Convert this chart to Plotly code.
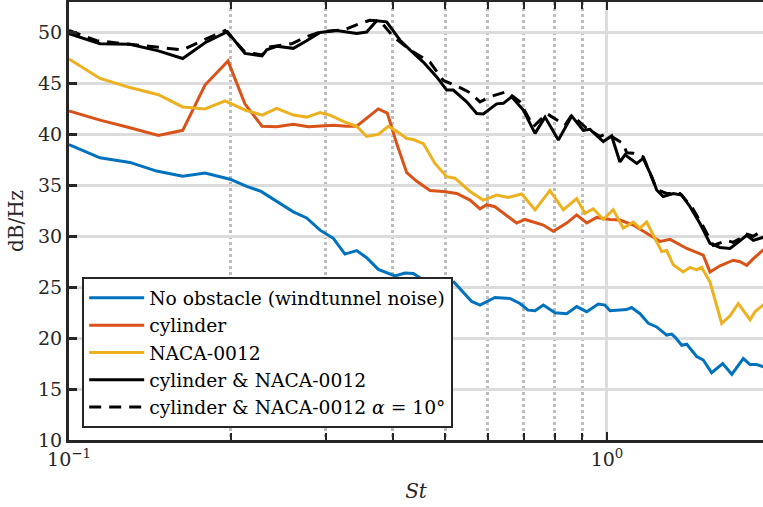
import plotly.graph_objects as go

# Strouhal number / spectral level pairs for each configuration
st_empty = [0.1, 0.1142, 0.1298, 0.1455, 0.1627, 0.179, 0.1992, 0.214, 0.2275, 0.2432,
            0.2612, 0.2765, 0.2928, 0.31, 0.3258, 0.3425, 0.3575, 0.3757, 0.4036, 0.4212,
            0.4365, 0.4589, 0.4825, 0.507, 0.5195, 0.5604, 0.5807, 0.619, 0.66, 0.689,
            0.7132, 0.735, 0.7615, 0.8005, 0.8416, 0.8784, 0.917, 0.9634, 0.9915, 1.013,
            1.088, 1.111, 1.152, 1.194, 1.237, 1.291, 1.319, 1.338, 1.377, 1.407,
            1.468, 1.51, 1.565, 1.641, 1.706, 1.792, 1.845, 1.897, 1.95, 2.0]
db_empty = [39.0, 37.7, 37.25, 36.4, 35.9, 36.2, 35.6, 34.9, 34.4, 33.4,
            32.4, 31.8, 30.6, 29.8, 28.25, 28.6, 27.9, 26.75, 26.1, 26.4,
            26.35, 25.6, 25.4, 25.4, 25.5, 23.6, 23.25, 24.0, 23.9, 23.4,
            22.75, 22.7, 23.25, 22.5, 22.4, 23.1, 22.6, 23.35, 23.25, 22.7,
            22.8, 23.0, 22.4, 21.45, 21.1, 20.3, 20.4, 20.1, 19.3, 19.4,
            18.2, 17.85, 16.6, 17.5, 16.45, 18.0, 17.4, 17.4, 17.2, 17.4]

st_cyl = [0.1, 0.1142, 0.1298, 0.1466, 0.1627, 0.179, 0.1975, 0.2123, 0.2285, 0.2432,
          0.2612, 0.2785, 0.31, 0.3282, 0.3425, 0.3757, 0.3905, 0.4065, 0.4244, 0.443,
          0.4688, 0.4963, 0.5256, 0.5564, 0.5807, 0.5974, 0.619, 0.66, 0.6794, 0.704,
          0.7615, 0.7947, 0.8416, 0.8784, 0.917, 0.957, 1.013, 1.057, 1.119, 1.185,
          1.255, 1.31, 1.407, 1.51, 1.554, 1.622, 1.717, 1.767, 1.819, 1.871,
          1.95, 2.0]
db_cyl = [42.3, 41.4, 40.65, 39.9, 40.4, 44.85, 47.2, 43.0, 40.8, 40.75,
          41.0, 40.75, 40.9, 40.8, 40.8, 42.5, 42.1, 39.1, 36.25, 35.4,
          34.5, 34.4, 34.2, 33.55, 32.7, 33.1, 32.9, 31.75, 31.3, 31.65,
          31.1, 30.5, 31.3, 32.1, 31.3, 31.85, 31.65, 31.6, 31.1, 30.3,
          29.5, 29.7, 28.8, 28.15, 26.5, 27.1, 27.65, 27.5, 27.15, 27.8,
          28.65, 28.8]

st_naca = [0.1, 0.1142, 0.1298, 0.1466, 0.1627, 0.179, 0.195, 0.2123, 0.2285, 0.2432,
           0.2612, 0.2765, 0.2928, 0.3055, 0.3258, 0.3425, 0.3575, 0.3757, 0.3923, 0.4065,
           0.4244, 0.4365, 0.4556, 0.4789, 0.5035, 0.5217, 0.5564, 0.5888, 0.6236, 0.6555,
           0.6941, 0.735, 0.7834, 0.8295, 0.8784, 0.9101, 0.943, 0.9843, 1.027, 1.072,
           1.119, 1.152, 1.185, 1.264, 1.291, 1.328, 1.386, 1.427, 1.468, 1.499,
           1.554, 1.634, 1.693, 1.754, 1.845, 1.884, 1.95, 2.0]
db_naca = [47.4, 45.5, 44.6, 43.9, 42.7, 42.5, 43.3, 42.4, 41.9, 42.55,
           41.9, 41.7, 42.15, 41.9, 41.2, 40.8, 39.8, 40.0, 40.8, 40.3,
           39.6, 39.5, 39.1, 37.15, 35.85, 35.7, 34.4, 33.55, 34.05, 33.8,
           34.15, 32.6, 34.5, 32.6, 33.7, 32.25, 32.7, 31.65, 32.6, 30.8,
           31.4, 30.8, 31.4, 28.5, 28.6, 27.2, 26.5, 26.95, 26.7, 26.95,
           25.5, 21.45, 22.2, 23.4, 21.8, 22.6, 23.25, 23.2]

st_both = [0.1, 0.1142, 0.1298, 0.1466, 0.1627, 0.179, 0.197, 0.2123, 0.2285, 0.2331,
           0.2432, 0.2612, 0.2765, 0.2928, 0.3145, 0.3425, 0.3575, 0.3731, 0.3895, 0.4124,
           0.4303, 0.4556, 0.4825, 0.5035, 0.5179, 0.5486, 0.5726, 0.5888, 0.6236, 0.6416,
           0.6651, 0.6989, 0.735, 0.767, 0.8121, 0.86, 0.9036, 0.9299, 0.9843, 1.02,
           1.057, 1.08, 1.136, 1.168, 1.211, 1.237, 1.272, 1.328, 1.377, 1.427,
           1.489, 1.554, 1.622, 1.693, 1.742, 1.819, 1.871, 1.95, 2.0]
db_both = [49.9, 48.9, 48.85, 48.2, 47.45, 49.0, 50.1, 47.95, 47.7, 48.3,
           48.65, 48.45, 49.2, 50.0, 50.2, 49.9, 50.05, 51.15, 51.05, 49.25,
           48.3, 47.1, 45.65, 44.35, 44.35, 43.2, 42.05, 42.0, 43.0, 43.05,
           43.7, 42.4, 40.1, 41.7, 39.45, 41.8, 40.4, 40.5, 39.3, 39.85,
           37.3, 38.0, 37.15, 37.65, 35.85, 34.55, 33.9, 34.2, 34.05, 32.9,
           31.25, 29.3, 28.9, 28.8, 29.3, 30.1, 29.6, 29.9, 29.8]

st_both_a10 = [0.1, 0.1126, 0.127, 0.1455, 0.1627, 0.1752, 0.195, 0.2123, 0.2285, 0.2364,
               0.2502, 0.2594, 0.2765, 0.2928, 0.3258, 0.3475, 0.3626, 0.3785, 0.4007, 0.4303,
               0.4688, 0.4963, 0.5332, 0.5564, 0.5807, 0.6061, 0.651, 0.689, 0.7295, 0.7726,
               0.8354, 0.86, 0.917, 0.9705, 0.9986, 1.072, 1.088, 1.119, 1.168, 1.211,
               1.237, 1.291, 1.367, 1.437, 1.51, 1.576, 1.67, 1.717, 1.819, 1.871,
               1.95, 2.0]
db_both_a10 = [50.2, 49.2, 48.9, 48.6, 48.3, 49.1, 50.2, 48.1, 47.8, 48.6,
               48.8, 48.9, 49.6, 50.05, 50.3, 50.9, 51.2, 51.15, 49.6, 48.3,
               47.1, 45.3, 44.6, 44.1, 43.2, 43.7, 44.2, 43.2, 40.75, 42.05,
               40.9, 41.9, 40.6, 39.8, 40.1, 39.1, 38.2, 38.15, 37.8, 35.9,
               34.6, 34.2, 34.2, 32.9, 30.95, 29.1, 29.6, 29.4, 30.2, 30.0,
               30.6, 30.4]

names = ["No obstacle (windtunnel noise)", "cylinder", "NACA-0012",
         "cylinder & NACA-0012", "cylinder & NACA-0012 <i>α</i> = 10°"]
colors = ["#0072BD", "#D95319", "#EDB120", "#000000", "#000000"]
dashes = ["solid", "solid", "solid", "solid", "12px,8px"]
series = [(st_empty, db_empty), (st_cyl, db_cyl), (st_naca, db_naca),
          (st_both, db_both), (st_both_a10, db_both_a10)]

major_ticks = [0.1, 1]
major_text = ["10<sup>−1</sup>", "10<sup>0</sup>"]
minor_ticks = [0.2, 0.3, 0.4, 0.5, 0.6, 0.7, 0.8, 0.9, 2]
y_ticks = [10, 15, 20, 25, 30, 35, 40, 45, 50]

FONT = "DejaVu Serif"
AX = "#262626"

fig = go.Figure()
for (x, y), name, c, d in zip(series, names, colors, dashes):
    fig.add_trace(go.Scatter(x=x, y=y, mode="lines", name=name,
                             line=dict(color=c, width=3, dash=d)))

fig.update_layout(
    width=763, height=507,
    margin=dict(l=69, r=0, t=2, b=67),
    paper_bgcolor="white", plot_bgcolor="white",
    font=dict(family=FONT, size=19, color=AX),
    showlegend=True,
    legend=dict(x=0.019, y=0.027, xanchor="left", yanchor="bottom",
                bgcolor="white", bordercolor=AX, borderwidth=2,
                font=dict(family=FONT, size=18.7, color="#000000"),
                itemwidth=55, tracegroupgap=0),
    xaxis=dict(type="log", range=[-1, 0.29],
               tickmode="array", tickvals=major_ticks, ticktext=major_text,
               ticks="inside", ticklen=8, tickwidth=2, tickcolor=AX,
               showline=True, linewidth=3, linecolor=AX, mirror="ticks",
               showgrid=True, gridcolor="#dcdcdc", gridwidth=3,
               zeroline=False,
               title=dict(text="<i>St</i>", font=dict(family=FONT, size=20), standoff=16),
               minor=dict(tickmode="array", tickvals=minor_ticks,
                          ticks="inside", ticklen=7, tickwidth=2, tickcolor=AX,
                          showgrid=True, gridcolor="#bdbdbd", gridwidth=2.5,
                          griddash="dot")),
    yaxis=dict(range=[10, 53], tickmode="array", tickvals=y_ticks,
               ticks="inside", ticklen=8, tickwidth=2.5, tickcolor=AX,
               showline=True, linewidth=3, linecolor=AX, mirror=False,
               showgrid=True, gridcolor="#dcdcdc", gridwidth=3,
               zeroline=False,
               title=dict(text="dB/Hz", font=dict(family=FONT, size=20), standoff=10)),
)

fig.write_html("out.html")
